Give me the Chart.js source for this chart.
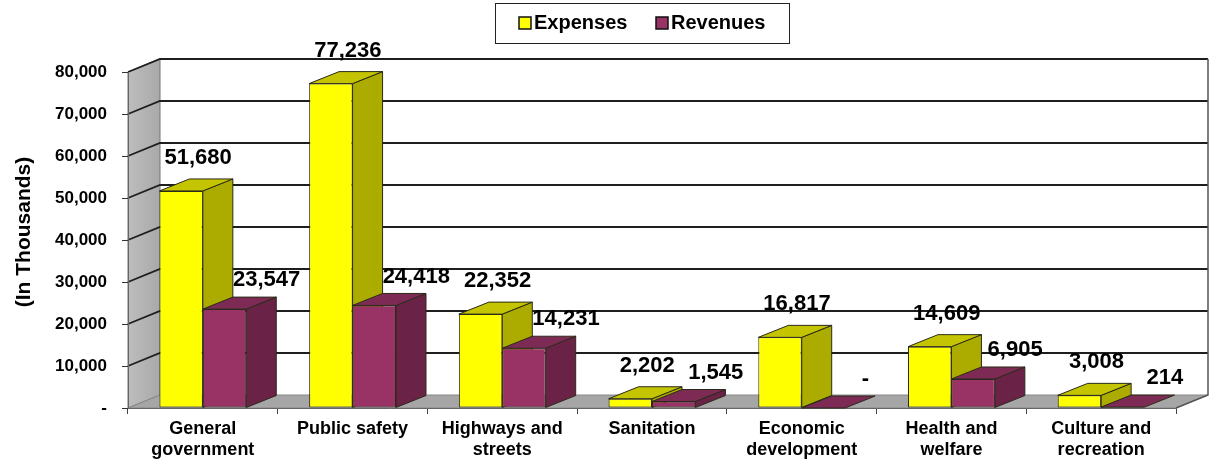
<!DOCTYPE html>
<html>
<head>
<meta charset="utf-8">
<script src="https://cdn.jsdelivr.net/npm/chart.js@4.4.0/dist/chart.umd.min.js"></script>
<style>
html,body{margin:0;padding:0;background:#fff;}
#wrap{width:1219px;height:465px;position:relative;}
</style>
</head>
<body>
<div id="wrap"><canvas id="c" width="1219" height="465"></canvas></div>
<script>
// ---- data ----
const categories = [
  ['General', 'government'],
  'Public safety',
  ['Highways and', 'streets'],
  'Sanitation',
  ['Economic', 'development'],
  ['Health and', 'welfare'],
  ['Culture and', 'recreation']
];
const expenses = [51680, 77236, 22352, 2202, 16817, 14609, 3008];
const revenues = [23547, 24418, 14231, 1545, 0, 6905, 214];
const seriesNames = ['Expenses', 'Revenues'];
const yTickLabels = ['-', '10,000', '20,000', '30,000', '40,000', '50,000', '60,000', '70,000', '80,000'];
const yAxisTitle = '(In Thousands)';

// ---- styling ----
const FONT = 'Arial, "Liberation Sans", sans-serif';
const WALL_DX = 32, WALL_DY = -13;
const BAR_DX = 30, BAR_DY = -12;
const faceColors = [
  { front: '#ffff00', side: '#abab00', top: '#c4c400' },
  { front: '#993366', side: '#6a2346', top: '#7d2b55' }
];
const labelShift = [ { dx: 17, dy: -33 }, { dx: 42, dy: -29 } ];
const EDGE = '#2a2a1a';

function poly(ctx, pts, fill, stroke, lw) {
  ctx.beginPath();
  ctx.moveTo(pts[0][0], pts[0][1]);
  for (let i = 1; i < pts.length; i++) ctx.lineTo(pts[i][0], pts[i][1]);
  ctx.closePath();
  if (fill) { ctx.fillStyle = fill; ctx.fill(); }
  if (stroke) { ctx.strokeStyle = stroke; ctx.lineWidth = lw || 1; ctx.stroke(); }
}

function drawBarFaces(chart, dsIndex) {
  const ctx = chart.ctx;
  const meta = chart.getDatasetMeta(dsIndex);
  const col = faceColors[dsIndex];
  meta.data.forEach(bar => {
    const p = bar.getProps(['x', 'y', 'base', 'width'], true);
    const l = p.x - p.width / 2, r = p.x + p.width / 2;
    const t = Math.min(p.y, p.base), b = Math.max(p.y, p.base);
    if (b - t > 0.5) {
      poly(ctx, [[r, t], [r + BAR_DX, t + BAR_DY], [r + BAR_DX, b + BAR_DY], [r, b]], col.side, EDGE, 1);
    }
    poly(ctx, [[l, t], [l + BAR_DX, t + BAR_DY], [r + BAR_DX, t + BAR_DY], [r, t]], col.top, EDGE, 1);
  });
}

const threeD = {
  id: 'threeD',
  beforeDraw(chart) {
    const ctx = chart.ctx;
    const { left, right, top, bottom } = chart.chartArea;
    const ys = chart.scales.y;
    ctx.save();
    ctx.fillStyle = '#ffffff';
    ctx.fillRect(0, 0, chart.width, chart.height);
    // left wall
    const g = ctx.createLinearGradient(left, 0, left + WALL_DX, 0);
    g.addColorStop(0, '#bdbdbd');
    g.addColorStop(1, '#a9a9a9');
    poly(ctx, [[left, top], [left + WALL_DX, top + WALL_DY], [left + WALL_DX, bottom + WALL_DY], [left, bottom]], g, '#777', 1);
    // floor
    poly(ctx, [[left, bottom], [right, bottom], [right + WALL_DX, bottom + WALL_DY], [left + WALL_DX, bottom + WALL_DY]], '#a6a6a6', '#888', 1);
    // gridlines on side and back walls
    ctx.strokeStyle = '#1e1e1e';
    ctx.lineWidth = 1.8;
    for (let i = 1; i < yTickLabels.length; i++) {
      const yf = ys.getPixelForValue(i * 10000);
      ctx.beginPath();
      ctx.moveTo(left, yf);
      ctx.lineTo(left + WALL_DX, yf + WALL_DY);
      ctx.lineTo(right + WALL_DX, yf + WALL_DY);
      ctx.stroke();
    }
    // right edge of back wall
    ctx.strokeStyle = '#555';
    ctx.lineWidth = 1.5;
    ctx.beginPath();
    ctx.moveTo(right + WALL_DX, top + WALL_DY);
    ctx.lineTo(right + WALL_DX, bottom + WALL_DY);
    ctx.lineTo(right, bottom);
    ctx.stroke();

    // legend
    ctx.lineWidth = 1;
    ctx.strokeStyle = '#222';
    ctx.strokeRect(495.5, 3.5, 294, 40);
    ctx.font = 'bold 20px ' + FONT;
    ctx.textBaseline = 'middle';
    ctx.textAlign = 'left';
    const legendX = [519, 656];
    seriesNames.forEach((name, i) => {
      ctx.fillStyle = faceColors[i].front;
      ctx.fillRect(legendX[i], 17, 12, 12);
      ctx.strokeStyle = '#111';
      ctx.lineWidth = 1.5;
      ctx.strokeRect(legendX[i], 17, 12, 12);
      ctx.fillStyle = '#000';
      ctx.fillText(name, legendX[i] + 15, 23.5);
    });

    // y axis title
    ctx.save();
    ctx.translate(24, 232);
    ctx.rotate(-Math.PI / 2);
    ctx.font = 'bold 21px ' + FONT;
    ctx.textAlign = 'center';
    ctx.textBaseline = 'middle';
    ctx.fillStyle = '#000';
    ctx.fillText(yAxisTitle, 0, 0);
    ctx.restore();
    ctx.restore();
  },
  beforeDatasetsDraw(chart) {
    chart.ctx.save();
    drawBarFaces(chart, 0);
    chart.ctx.restore();
  },
  afterDatasetsDraw(chart) {
    const ctx = chart.ctx;
    ctx.save();
    drawBarFaces(chart, 1);
    ctx.font = 'bold 22px ' + FONT;
    ctx.fillStyle = '#000';
    ctx.textAlign = 'center';
    ctx.textBaseline = 'middle';
    chart.data.datasets.forEach((ds, di) => {
      const sh = labelShift[di];
      chart.getDatasetMeta(di).data.forEach((bar, i) => {
        const v = ds.data[i];
        const txt = v === 0 ? '-' : v.toLocaleString('en-US');
        ctx.fillText(txt, bar.x + sh.dx, bar.y + sh.dy);
      });
    });
    ctx.restore();
  }
};

new Chart(document.getElementById('c'), {
  type: 'bar',
  data: {
    labels: categories,
    datasets: [
      { label: seriesNames[0], data: expenses, backgroundColor: faceColors[0].front,
        borderColor: EDGE, borderWidth: 1, borderSkipped: false,
        barPercentage: 1, categoryPercentage: 0.58 },
      { label: seriesNames[1], data: revenues, backgroundColor: faceColors[1].front,
        borderColor: EDGE, borderWidth: 1, borderSkipped: false,
        barPercentage: 1, categoryPercentage: 0.58 }
    ]
  },
  options: {
    responsive: false,
    animation: false,
    devicePixelRatio: 1,
    layout: { padding: { top: 72, right: 43, left: 0, bottom: 0 } },
    plugins: { legend: { display: false }, tooltip: { enabled: false } },
    scales: {
      x: {
        grid: { display: true, drawOnChartArea: false, drawTicks: true, tickLength: 6, color: '#444', offset: true },
        border: { display: true, color: '#666' },
        ticks: { font: { family: FONT, size: 18, weight: 'bold' }, color: '#000', maxRotation: 0, minRotation: 0, autoSkip: false, padding: 4, lineHeight: 1.15 },
        afterFit(s) { s.height = 57; }
      },
      y: {
        min: 0, max: 80000,
        ticks: { stepSize: 10000, font: { family: FONT, size: 17, weight: 'bold' }, color: '#000', padding: 15,
          callback: (v) => yTickLabels[Math.round(v / 10000)] },
        grid: { display: true, drawOnChartArea: false, drawTicks: true, tickLength: 6, color: '#333' },
        border: { display: true, color: '#666' },
        afterFit(s) { s.width = 128; }
      }
    }
  },
  plugins: [threeD]
});
</script>
</body>
</html>
